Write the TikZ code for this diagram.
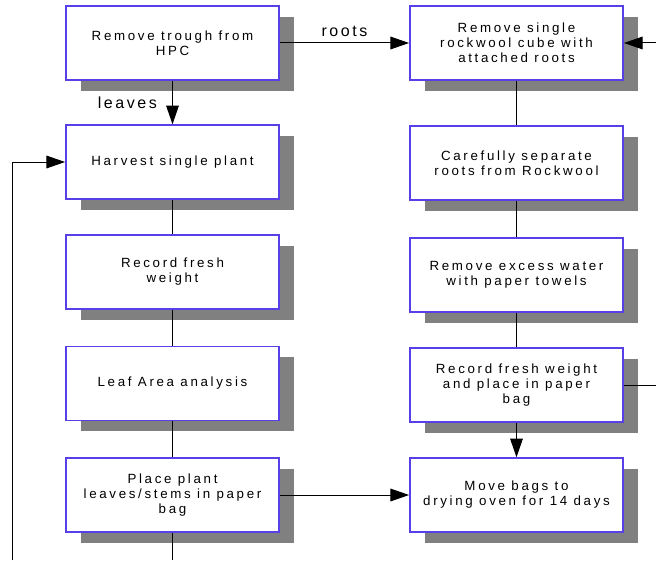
\documentclass[tikz,border=0pt]{standalone}
\usepackage{fontspec}
\setmainfont{Liberation Sans}
\newfontfamily\boxfont{Liberation Sans}[LetterSpace=20]
\newfontfamily\tagfont{Liberation Sans}[LetterSpace=16]
\usepackage{tikz}
\usetikzlibrary{arrows.meta, positioning, shadows}
\definecolor{boxblue}{RGB}{88, 64, 232}
\definecolor{shadowgray}{RGB}{128, 128, 128}

\begin{document}
\begin{tikzpicture}[
    x=0.75pt, y=-0.75pt,
    stepbox/.style={draw=boxblue, line width=1.1pt, fill=white, align=center,
                    minimum width=160pt, minimum height=55.5pt, inner sep=2pt,
                    font=\boxfont\fontsize{10}{11.3}\selectfont,
                    drop shadow={shadow xshift=11pt, shadow yshift=-8pt,
                                 fill=shadowgray, opacity=1}},
    link/.style={line width=0.75pt, black},
    arrow/.style={link, -{Triangle[length=14pt, width=9.5pt]}},
    tag/.style={font=\tagfont\fontsize{12}{14}\selectfont}
]
    \useasboundingbox (0,0) rectangle (656,560);

    % leaves column
    \node[stepbox] (trough)  at (172.5,43)  {Remove trough from\\HPC};
    \node[stepbox] (harvest) at (172.5,162) {Harvest single plant};
    \node[stepbox] (fresh)   at (172.5,272) {Record fresh\\weight};
    \node[stepbox] (area)    at (172.5,383.5) {Leaf Area analysis};
    \node[stepbox] (bag)     at (172.5,495) {Place plant\\leaves/stems in paper\\bag};

    % roots column
    \node[stepbox] (cube)    at (516.5,43)  {Remove single\\rockwool cube with\\attached roots};
    \node[stepbox] (separate) at (516.5,163) {Carefully separate\\roots from Rockwool};
    \node[stepbox] (towel)   at (516.5,275) {Remove excess water\\with paper towels};
    \node[stepbox] (weighbag) at (516.5,385) {Record fresh weight\\and place in paper\\bag};
    \node[stepbox] (oven)    at (516.5,495) {Move bags to\\drying oven for 14 days};

    % loose ends at the page edge
    \coordinate (loopin)  at (12,560);
    \coordinate (bagout)  at (172.5,560);
    \coordinate (cubein)  at (656,43);
    \coordinate (weighout) at (656,385);

    \draw[arrow] (trough) -- node[tag, above=1pt] {roots} (cube);
    \draw[arrow] (trough) -- node[tag, left=8pt] {leaves} (harvest);
    \draw[arrow] (loopin) |- (harvest);
    \draw[link] (harvest) -- (fresh);
    \draw[link] (fresh) -- (area);
    \draw[link] (area) -- (bag);
    \draw[link] (bag) -- (bagout);
    \draw[arrow] (bag) -- (oven);

    \draw[arrow] (cubein) -- (cube);
    \draw[link] (cube) -- (separate);
    \draw[link] (separate) -- (towel);
    \draw[link] (towel) -- (weighbag);
    \draw[arrow] (weighbag) -- (oven);
    \draw[link] (weighbag) -- (weighout);
\end{tikzpicture}
\end{document}
